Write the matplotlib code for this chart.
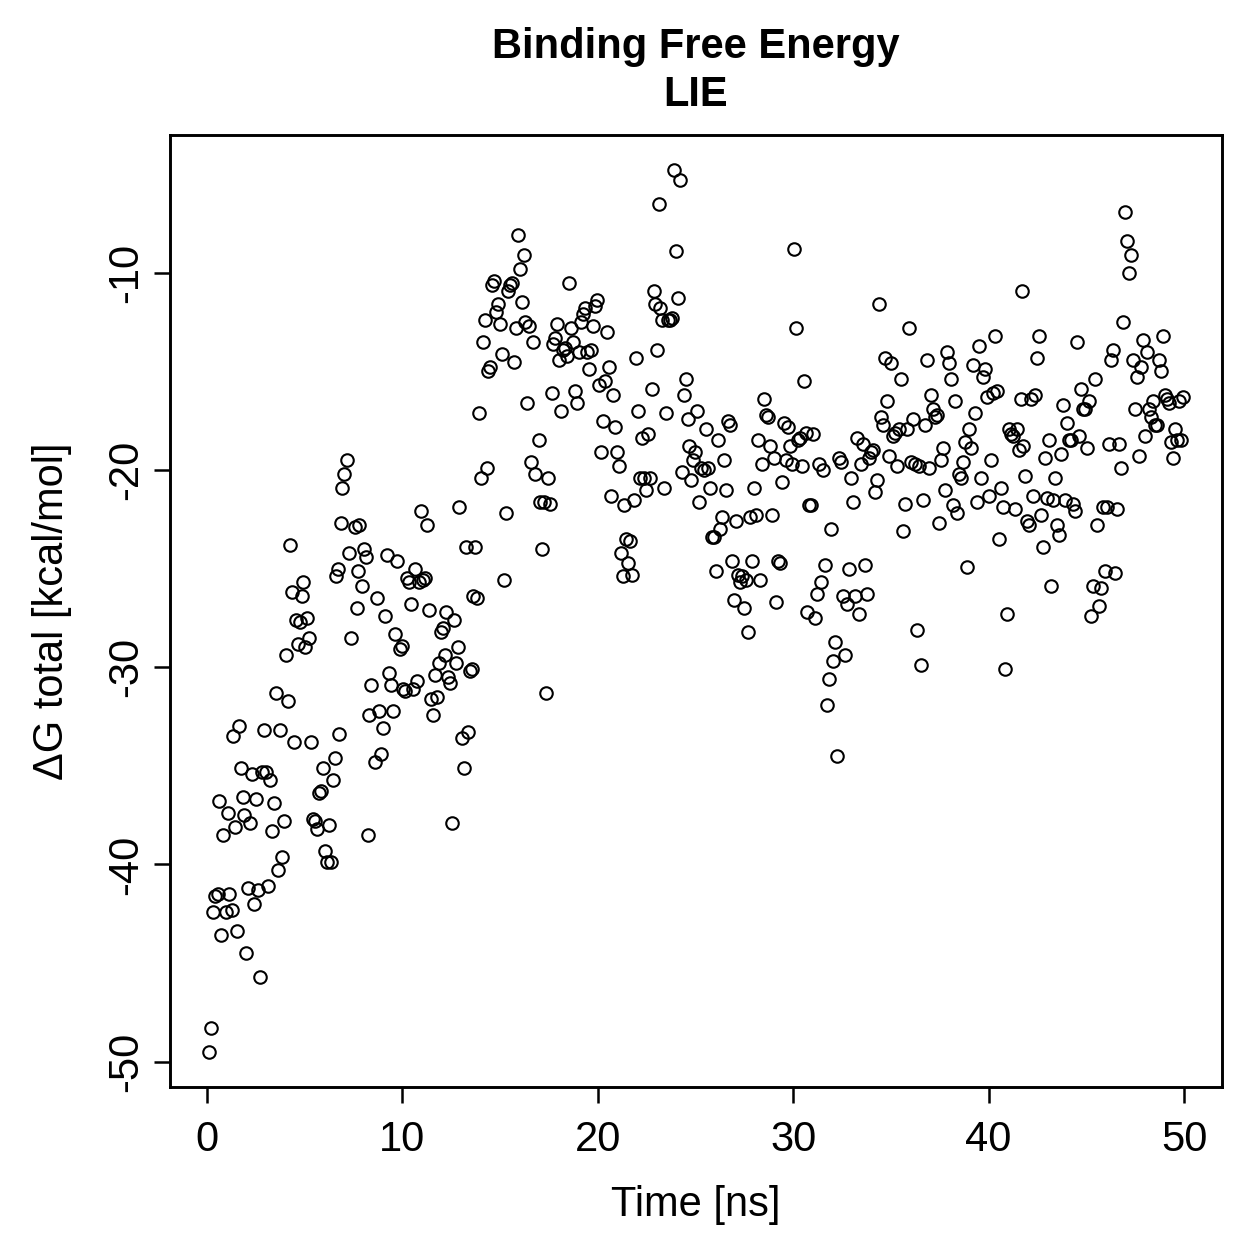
import numpy as np
import matplotlib.pyplot as plt

plt.rcParams['font.family'] = ['Liberation Sans', 'DejaVu Sans']
plt.rcParams['axes.unicode_minus'] = False

# values (time in ns, dG in kcal/mol)
time_ns = [
  0.10, 0.20, 0.31, 0.41, 0.56, 0.61, 0.72, 0.82, 0.97, 1.07, 1.13, 1.28, 1.33, 1.43, 1.54, 1.64, 1.74, 1.84, 1.89, 2.00,
  2.10, 2.20, 2.30, 2.41, 2.51, 2.61, 2.71, 2.81, 2.92, 3.02, 3.12, 3.22, 3.33, 3.43, 3.53, 3.63, 3.74, 3.84, 3.94, 4.04,
  4.15, 4.25, 4.35, 4.45, 4.55, 4.66, 4.76, 4.86, 4.91, 5.02, 5.12, 5.22, 5.32, 5.42, 5.53, 5.63, 5.73, 5.83, 5.94, 6.04,
  6.14, 6.24, 6.35, 6.45, 6.55, 6.60, 6.70, 6.76, 6.86, 6.91, 7.01, 7.16, 7.27, 7.37, 7.57, 7.68, 7.73, 7.78, 7.93, 8.03,
  8.14, 8.24, 8.29, 8.39, 8.60, 8.70, 8.80, 8.90, 9.01, 9.11, 9.21, 9.31, 9.42, 9.52, 9.62, 9.72, 9.88, 9.98, 10.03, 10.13,
  10.24, 10.34, 10.44, 10.54, 10.64, 10.75, 10.85, 10.95, 11.05, 11.16, 11.26, 11.36, 11.46, 11.57, 11.67, 11.77, 11.87, 11.98, 12.08, 12.18,
  12.23, 12.33, 12.44, 12.54, 12.64, 12.74, 12.85, 12.90, 13.05, 13.15, 13.25, 13.36, 13.46, 13.56, 13.61, 13.72, 13.82, 13.92, 14.02, 14.12,
  14.23, 14.33, 14.38, 14.48, 14.59, 14.69, 14.79, 14.89, 15.00, 15.10, 15.20, 15.30, 15.40, 15.51, 15.61, 15.71, 15.81, 15.92, 16.02, 16.12,
  16.22, 16.27, 16.38, 16.48, 16.58, 16.68, 16.79, 16.99, 17.04, 17.14, 17.25, 17.35, 17.45, 17.55, 17.66, 17.71, 17.81, 17.91, 18.01, 18.12,
  18.22, 18.32, 18.42, 18.53, 18.63, 18.73, 18.83, 18.94, 19.04, 19.14, 19.24, 19.34, 19.45, 19.55, 19.65, 19.75, 19.86, 19.96, 20.06, 20.16,
  20.27, 20.37, 20.47, 20.57, 20.68, 20.78, 20.88, 20.98, 21.08, 21.19, 21.29, 21.34, 21.44, 21.55, 21.65, 21.75, 21.85, 21.95, 22.06, 22.16,
  22.26, 22.36, 22.47, 22.57, 22.67, 22.77, 22.88, 22.93, 23.03, 23.13, 23.18, 23.29, 23.39, 23.49, 23.59, 23.69, 23.80, 23.90, 24.00, 24.10,
  24.21, 24.31, 24.41, 24.51, 24.62, 24.67, 24.77, 24.87, 24.97, 25.08, 25.18, 25.28, 25.44, 25.54, 25.64, 25.74, 25.84, 25.95, 26.05, 26.15,
  26.25, 26.36, 26.46, 26.56, 26.66, 26.77, 26.87, 26.97, 27.07, 27.17, 27.28, 27.38, 27.48, 27.58, 27.69, 27.79, 27.89, 27.99, 28.10, 28.20,
  28.30, 28.40, 28.51, 28.61, 28.71, 28.81, 28.92, 29.02, 29.12, 29.22, 29.32, 29.43, 29.53, 29.63, 29.73, 29.84, 29.94, 30.04, 30.14, 30.25,
  30.35, 30.45, 30.55, 30.66, 30.71, 30.81, 30.91, 31.01, 31.12, 31.22, 31.32, 31.42, 31.53, 31.63, 31.73, 31.83, 31.93, 32.04, 32.14, 32.24,
  32.34, 32.45, 32.55, 32.65, 32.75, 32.86, 32.96, 33.06, 33.16, 33.27, 33.37, 33.47, 33.57, 33.67, 33.78, 33.88, 33.98, 34.08, 34.19, 34.29,
  34.39, 34.49, 34.60, 34.70, 34.80, 34.90, 35.01, 35.11, 35.21, 35.31, 35.41, 35.52, 35.62, 35.72, 35.82, 35.93, 36.03, 36.13, 36.23, 36.34,
  36.44, 36.54, 36.64, 36.75, 36.85, 36.95, 37.05, 37.15, 37.26, 37.36, 37.46, 37.56, 37.67, 37.77, 37.87, 37.97, 38.08, 38.18, 38.28, 38.38,
  38.49, 38.59, 38.69, 38.79, 38.89, 39.00, 39.10, 39.20, 39.30, 39.41, 39.51, 39.61, 39.71, 39.82, 39.92, 40.02, 40.12, 40.23, 40.33, 40.43,
  40.53, 40.63, 40.74, 40.84, 40.94, 41.04, 41.15, 41.25, 41.35, 41.45, 41.56, 41.66, 41.70, 41.76, 41.86, 41.97, 42.07, 42.17, 42.27, 42.37,
  42.48, 42.58, 42.68, 42.78, 42.89, 42.99, 43.09, 43.19, 43.30, 43.40, 43.50, 43.60, 43.71, 43.81, 43.91, 44.01, 44.11, 44.22, 44.32, 44.42,
  44.52, 44.63, 44.73, 44.83, 44.93, 45.04, 45.14, 45.24, 45.34, 45.45, 45.55, 45.65, 45.75, 45.85, 45.96, 46.06, 46.16, 46.26, 46.37, 46.47,
  46.57, 46.67, 46.78, 46.88, 46.98, 47.08, 47.19, 47.29, 47.39, 47.49, 47.59, 47.70, 47.80, 47.90, 48.00, 48.11, 48.21, 48.31, 48.41, 48.52,
  48.62, 48.72, 48.82, 48.93, 49.03, 49.13, 49.23, 49.34, 49.44, 49.54, 49.64, 49.74, 49.85, 49.95,
]

dg_total = [
  -49.5, -48.3, -42.4, -41.6, -41.5, -36.8, -43.6, -38.5, -42.4, -37.4, -41.5, -42.3, -33.5, -38.1, -43.4, -33.0, -35.1, -36.6, -37.5, -44.5,
  -41.2, -37.9, -35.4, -42.0, -36.7, -41.3, -45.7, -35.3, -33.2, -35.3, -41.1, -35.7, -38.3, -36.9, -31.3, -40.3, -33.2, -39.6, -37.8, -29.4,
  -31.7, -23.8, -26.2, -33.8, -27.6, -28.8, -27.7, -26.4, -25.7, -29.0, -27.5, -28.5, -33.8, -37.7, -37.8, -38.2, -36.4, -36.3, -35.1, -39.3,
  -39.9, -38.0, -39.9, -35.7, -34.6, -25.4, -25.0, -33.4, -22.7, -20.9, -20.2, -19.5, -24.2, -28.5, -22.9, -27.0, -25.1, -22.8, -25.9, -24.0,
  -24.4, -38.5, -32.4, -30.9, -34.8, -26.5, -32.2, -34.4, -33.1, -27.4, -24.3, -30.3, -30.9, -32.2, -28.3, -24.6, -29.1, -28.9, -31.1, -31.2,
  -25.5, -25.7, -26.8, -31.1, -25.0, -30.7, -25.7, -22.1, -25.6, -25.5, -22.8, -27.1, -31.6, -32.4, -30.4, -31.5, -29.8, -28.2, -28.0, -29.4,
  -27.2, -30.5, -30.8, -37.9, -27.6, -29.8, -29.0, -21.9, -33.6, -35.1, -23.9, -33.3, -30.2, -30.1, -26.4, -23.9, -26.5, -17.1, -20.4, -13.5,
  -12.4, -19.9, -15.0, -14.8, -10.6, -10.4, -12.0, -11.6, -12.6, -14.1, -25.6, -22.2, -10.9, -10.6, -10.5, -14.5, -12.8, -8.1, -9.8, -11.5,
  -9.1, -12.5, -16.6, -12.7, -19.6, -13.5, -20.2, -18.5, -21.6, -24.0, -21.6, -31.3, -20.4, -21.7, -16.1, -13.6, -13.3, -12.6, -14.4, -17.0,
  -13.9, -13.8, -14.2, -10.5, -12.8, -13.5, -16.0, -16.6, -14.0, -12.5, -12.1, -11.8, -14.0, -14.9, -13.9, -12.7, -11.7, -11.4, -15.7, -19.1,
  -17.5, -15.5, -13.0, -14.8, -21.3, -16.2, -17.8, -19.1, -19.8, -24.2, -25.4, -21.8, -23.5, -24.7, -23.6, -25.3, -21.5, -14.3, -17.0, -20.4,
  -18.4, -20.4, -21.0, -18.2, -20.4, -15.9, -10.9, -11.6, -13.9, -6.5, -11.8, -12.4, -20.9, -17.1, -12.4, -12.4, -12.3, -4.8, -8.9, -11.3,
  -5.3, -20.1, -16.2, -15.4, -17.4, -18.8, -20.5, -19.5, -19.1, -17.0, -21.6, -19.9, -20.0, -17.9, -19.9, -20.9, -23.4, -23.4, -25.1, -18.5,
  -23.0, -22.4, -19.5, -21.0, -17.5, -17.7, -24.6, -26.6, -22.6, -25.3, -25.7, -25.4, -27.0, -25.6, -28.2, -22.4, -24.6, -20.9, -22.3, -18.5,
  -25.6, -19.7, -16.4, -17.2, -17.3, -18.8, -22.3, -19.4, -26.7, -24.6, -24.7, -20.6, -17.6, -19.5, -17.8, -18.8, -19.7, -8.8, -12.8, -18.5,
  -18.4, -19.8, -15.5, -18.1, -27.2, -21.8, -21.8, -18.2, -27.5, -26.3, -19.7, -25.7, -20.0, -24.8, -31.9, -30.6, -23.0, -29.7, -28.7, -34.5,
  -19.4, -19.6, -26.4, -29.4, -26.8, -25.0, -20.4, -21.6, -26.4, -18.4, -27.3, -19.7, -18.7, -24.8, -26.3, -19.4, -19.1, -19.0, -21.1, -20.5,
  -11.6, -17.3, -17.7, -14.3, -16.5, -19.3, -14.6, -18.3, -18.1, -19.8, -17.9, -15.4, -23.1, -21.7, -17.9, -12.8, -19.6, -17.4, -19.7, -28.1,
  -19.8, -29.9, -21.5, -17.7, -14.4, -19.9, -16.2, -16.9, -17.3, -17.2, -22.7, -19.5, -18.9, -21.0, -14.0, -14.6, -15.4, -21.8, -16.5, -22.2,
  -20.2, -20.4, -19.6, -18.6, -24.9, -17.9, -18.9, -14.7, -17.1, -21.6, -13.7, -20.4, -15.3, -14.9, -16.3, -21.3, -19.5, -16.1, -13.2, -16.0,
  -23.5, -20.9, -21.9, -30.1, -27.3, -17.9, -18.2, -18.3, -22.0, -17.9, -19.0, -16.4, -10.9, -18.8, -20.3, -22.6, -22.8, -16.4, -21.3, -16.2,
  -14.3, -13.2, -22.3, -23.9, -19.4, -21.4, -18.5, -25.9, -21.5, -20.4, -22.8, -23.3, -19.2, -16.7, -21.5, -17.6, -18.5, -18.5, -21.7, -22.1,
  -13.5, -18.3, -15.9, -16.9, -16.9, -18.9, -16.5, -27.4, -25.9, -15.4, -22.8, -26.9, -26.0, -21.9, -25.1, -21.9, -18.7, -14.4, -13.9, -25.2,
  -22.0, -18.7, -19.9, -12.5, -6.9, -8.4, -10.0, -9.1, -14.4, -16.9, -15.3, -19.3, -14.8, -13.4, -18.3, -14.0, -16.9, -17.3, -16.5, -17.7,
  -17.7, -14.4, -15.0, -13.2, -16.2, -16.4, -16.6, -18.6, -19.4, -17.9, -18.5, -16.5, -18.5, -16.3,
]

x_ticks = [0, 10, 20, 30, 40, 50]
y_ticks = [-50, -40, -30, -20, -10]

t = np.array(time_ns)
g = np.array(dg_total)

fig = plt.figure(figsize=(1259 / 300, 1259 / 300), dpi=300)
ax = fig.add_axes([0.135, 0.1366, 0.8356, 0.7562])

ax.plot(t, g, linestyle='none', marker='o', markersize=3.0,
        markerfacecolor='none', markeredgecolor='black', markeredgewidth=0.5)

# R style 4% padding
xr = t.max() - t.min()
yr = g.max() - g.min()
ax.set_xlim(t.min() - 0.04 * xr, t.max() + 0.04 * xr)
ax.set_ylim(g.min() - 0.04 * yr, g.max() + 0.04 * yr)

ax.set_xticks(x_ticks)
ax.set_yticks(y_ticks)
ax.tick_params(direction='out', length=3.8, width=0.6, labelsize=10)
ax.tick_params(axis='x', pad=4)
ax.tick_params(axis='y', pad=2)
for lab in ax.get_yticklabels():
  lab.set_rotation(90)
  lab.set_va('center')
for sp in ax.spines.values():
  sp.set_linewidth(0.7)

ax.set_xlabel("Time [ns]", fontsize=10, labelpad=6)
ax.set_ylabel("ΔG total [kcal/mol]", fontsize=10, labelpad=8)
ax.set_title("Binding Free Energy\nLIE", fontsize=10, fontweight='bold', linespacing=1.25, pad=7)

plt.savefig("out.png", dpi=300)
